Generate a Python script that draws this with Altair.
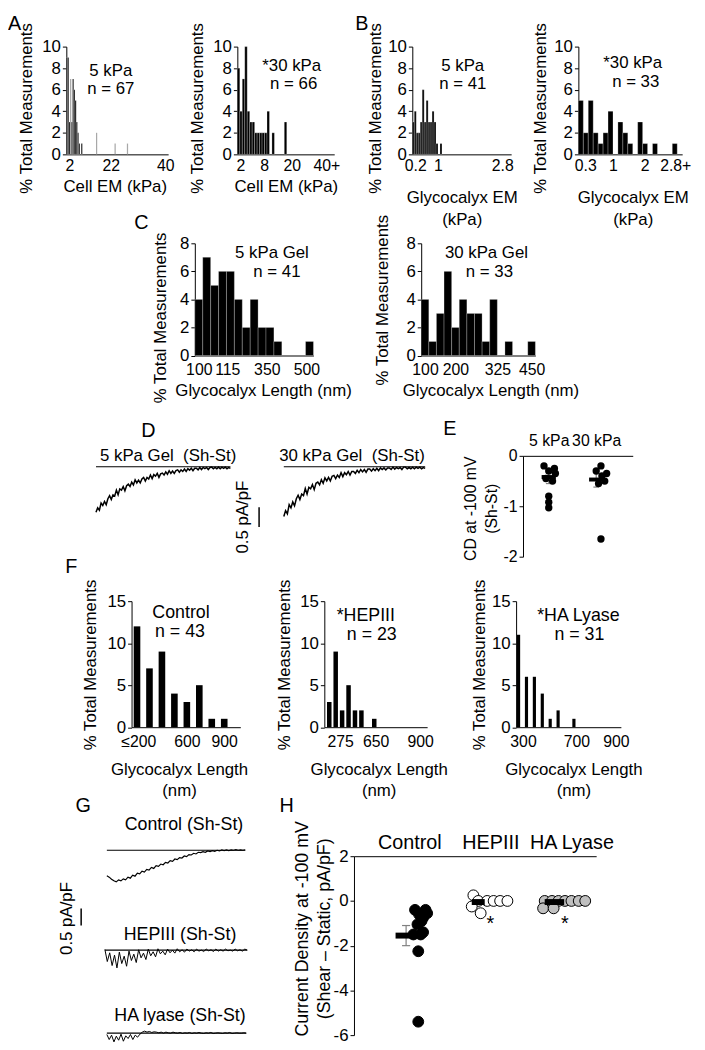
import altair as alt
import pandas as pd

FONT = "Liberation Sans"
W, H = 697, 1042
OX = OY = 8


def PX(x):
    return x - OX


def PY(y):
    return y - OY


# ------------------------------------------------------------------ data
# A: cell EM histograms (counts per bin)
A5_counts = [9, 9, 3, 7, 3, 7, 6, 5, 3, 2, 1, 0, 1, 0, 0, 0, 0, 0, 0, 0, 0, 0, 0, 0, 2,
             0, 0, 0, 0, 0, 0, 0, 0, 0, 0, 0, 0, 0, 0, 1, 0, 0, 0, 0, 0, 0, 0, 0, 0, 1]
A5_grey = [3, 24, 39, 49]
A5_tick_pos = [2.4, 36.0, 80.0]
A5_tick_lab = ["2", "22", "40"]

A30_counts = [8, 4, 7, 10, 4, 3, 3, 2, 2, 2, 2, 2, 4, 0, 2, 0, 0, 0, 0, 3]
A30_tick_pos = [1.2, 10.8, 22.0, 36.0]
A30_tick_lab = ["2", "8", "20", "40+"]

# B: glycocalyx EM histograms
B5_counts = [3, 4, 2, 2, 3, 6, 3, 5, 3, 3, 4, 3, 1, 0, 1]
B5_tick_pos = [1.5, 13.0, 45.5]
B5_tick_lab = ["0.2", "1", "2.8"]

B30_counts = [5, 2, 5, 2, 1, 2, 4, 0, 3, 2, 1, 0, 3, 1, 0, 1, 0, 0, 0, 1]
B30_tick_pos = [1.4, 7.0, 13.4, 19.6]
B30_tick_lab = ["0.3", "1", "2", "2.8+"]

# C: glycocalyx length histograms
C5_counts = [4, 7, 5, 6, 6, 4, 2, 4, 2, 2, 1, 0, 0, 0, 1]
C5_tick_pos = [0.5, 4.1, 9.1, 14.1]
C5_tick_lab = ["100", "115", "350", "500"]

C30_counts = [4, 1, 3, 6, 2, 4, 3, 3, 1, 4, 0, 1, 0, 0, 1]
C30_tick_pos = [0.5, 4.5, 10.0, 14.5]
C30_tick_lab = ["100", "200", "325", "450"]

# F: glycocalyx length after enzyme treatment
FC_counts = [12, 7, 9, 4, 3, 5, 1, 1]
FC_tick_pos = [0.6, 4.5, 7.5]
FC_tick_lab = ["≤200", "600", "900"]

FH_counts = [3, 9, 2, 5, 2, 2, 0, 1]
FH_tick_pos = [2.19, 7.73, 14.65]
FH_tick_lab = ["275", "650", "900"]

FL_counts = [11, 6, 6, 4, 1, 2, 0, 1]
FL_tick_pos = [1.06, 7.81, 12.81]
FL_tick_lab = ["300", "700", "900"]

# D: current traces (pA/pF, Sh-St)
D5_trace = [-1.15, -1.04, -1.10, -0.92, -0.98, -0.88, -0.96, -0.81, -0.73, -0.83,
            -0.71, -0.74, -0.59, -0.71, -0.56, -0.59, -0.50, -0.61, -0.48, -0.44,
            -0.50, -0.39, -0.46, -0.33, -0.41, -0.34, -0.41, -0.31, -0.27, -0.36,
            -0.27, -0.31, -0.21, -0.30, -0.20, -0.24, -0.17, -0.27, -0.18, -0.16,
            -0.21, -0.13, -0.19, -0.10, -0.17, -0.11, -0.17, -0.10, -0.08, -0.14,
            -0.08, -0.12, -0.06, -0.12, -0.05, -0.09, -0.04, -0.10, -0.04, -0.04,
            -0.08, -0.02, -0.07, -0.02, -0.05, -0.02, -0.07, -0.02, -0.01, -0.05,
            -0.02, -0.05, -0.01, -0.05, -0.01, -0.04, -0.01, -0.05, -0.02, -0.04]
D30_trace = [-1.26, -1.11, -1.19, -0.96, -1.04, -0.89, -0.99, -0.81, -0.72, -0.83,
             -0.69, -0.73, -0.55, -0.69, -0.52, -0.56, -0.45, -0.58, -0.42, -0.39,
             -0.46, -0.33, -0.42, -0.28, -0.36, -0.27, -0.36, -0.24, -0.22, -0.30,
             -0.21, -0.27, -0.15, -0.25, -0.15, -0.20, -0.12, -0.21, -0.12, -0.12,
             -0.17, -0.09, -0.15, -0.07, -0.13, -0.07, -0.14, -0.06, -0.06, -0.11,
             -0.05, -0.10, -0.04, -0.10, -0.03, -0.07, -0.03, -0.08, -0.03, -0.03,
             -0.07, -0.01, -0.06, -0.02, -0.05, -0.02, -0.07, -0.01, -0.01, -0.05,
             -0.02, -0.05, -0.01, -0.05, -0.01, -0.04, -0.01, -0.05, -0.02, -0.04]

# E: current density at -100 mV
E_groups = ["5 kPa", "30 kPa"]
E5_v = [-0.2, -0.25, -0.3, -0.35, -0.45, -0.5, -0.8, -0.92, -1.03]
E5_off = [-0.1, 0.12, 0.0, 0.14, -0.06, 0.08, 0.0, 0.0, 0.0]
E30_v = [-0.2, -0.3, -0.35, -0.4, -0.5, -0.55, -1.65]
E30_off = [0.1, 0.0, 0.22, 0.12, 0.18, 0.05, 0.1]
E_mean = [-0.42, -0.47]
E_sem = [0.13, 0.15]

# G: current traces
G_ctrl = [-0.76, -0.80, -0.86, -0.91, -0.94, -0.88, -0.91, -0.85, -0.88, -0.80,
          -0.83, -0.74, -0.77, -0.68, -0.70, -0.62, -0.65, -0.57, -0.59, -0.51,
          -0.54, -0.46, -0.48, -0.41, -0.43, -0.36, -0.38, -0.31, -0.33, -0.26,
          -0.28, -0.22, -0.23, -0.17, -0.19, -0.13, -0.14, -0.09, -0.11, -0.06,
          -0.07, -0.04, -0.06, -0.02, -0.04, -0.01, -0.03, 0.00, -0.02, 0.01,
          -0.01, 0.01, -0.01, 0.01, 0.00, 0.02, 0.00, 0.01, 0.00, 0.01]
G_hep = [0.02, -0.34, -0.08, -0.46, -0.15, -0.53, -0.06, -0.40, -0.18, -0.48,
         -0.03, -0.31, -0.12, -0.37, 0.01, -0.23, -0.09, -0.28, 0.03, -0.17,
         -0.05, -0.20, 0.04, -0.11, -0.03, -0.14, 0.03, -0.08, 0.00, -0.09,
         0.04, -0.05, 0.01, -0.06, 0.03, -0.03, 0.01, -0.05, 0.03, -0.03,
         0.00, -0.04, 0.03, -0.02, 0.01, -0.04, 0.03, -0.03, 0.01, -0.03,
         0.03, -0.02, 0.00, -0.03, 0.03, -0.02, 0.01, -0.03, 0.03, 0.00]
G_ha = [-0.04, -0.19, -0.06, -0.26, -0.09, -0.21, -0.03, -0.24, -0.08, -0.16,
        -0.04, -0.19, -0.06, -0.12, -0.03, 0.03, 0.06, 0.03, 0.05, 0.02,
        0.04, 0.03, 0.01, 0.03, 0.00, 0.03, 0.01, 0.00, 0.03, 0.01,
        0.00, 0.02, -0.01, 0.01, 0.00, 0.02, -0.01, 0.01, 0.00, 0.02,
        0.00, -0.01, 0.01, 0.00, 0.02, -0.01, 0.00, 0.01, 0.00, -0.01,
        0.01, 0.00, 0.02, -0.01, 0.00, 0.01, 0.00, 0.00, 0.01, 0.00]

# H: current density at -100 mV after enzyme treatment
H_groups = ["Control", "HEPIII", "HA Lyase"]
H_ctrl_v = [-0.4, -0.4, -0.55, -0.6, -0.75, -0.9, -1.05, -1.4, -1.5, -1.5, -2.25, -5.4]
H_ctrl_off = [0.07, 0.2, 0.22, 0.12, 0.17, 0.15, 0.1, 0.17, 0.05, 0.14, 0.11, 0.11]
H_hep_v = [0.25, 0, 0, 0, 0, 0, -0.25, -0.55]
H_hep_off = [-0.21, -0.15, -0.04, 0.04, 0.12, 0.21, -0.23, -0.12]
H_ha_v = [0, 0, 0, 0, 0, 0, 0, -0.33, -0.33]
H_ha_off = [-0.33, -0.24, -0.16, -0.08, 0.0, 0.09, 0.17, -0.35, -0.22]
H_mean = [-1.55, -0.05, -0.05]
H_sem = [0.45, 0.08, 0.06]
H_mean_off = [-0.04, -0.15, -0.21]
H_mean_half = [0.13, 0.08, 0.12]

# ------------------------------------------------------------------ helpers
AX = dict(grid=False, domainColor="black", tickColor="black", labelColor="black",
          titleColor="black", labelFont=FONT, titleFont=FONT, titleFontWeight="normal",
          labelOverlap=False, minExtent=0)
PLAIN = "'' + datum.value"


def lab_expr(pos, lab):
    return ("[" + ",".join("'%s'" % s for s in lab) + "][indexof(["
            + ",".join(repr(p) for p in pos) + "], datum.value)]")


def yaxis(ax_x, values, title, tcx, tcy, lsize=17, tsize=17, lh=None):
    d = dict(AX)
    d.update(orient="left", offset=-PX(ax_x), values=values, title=title, tickSize=4,
             labelPadding=2, labelFontSize=lsize, titleFontSize=tsize, labelExpr=PLAIN,
             titleX=tcx - ax_x, titleY=PY(tcy), titleBaseline="middle",
             titleAngle=270, titleAlign="center")
    if lh:
        d["titleLineHeight"] = lh
    return alt.Axis(**d)


def xaxis_bottom(ax_y, pos, lab, title, tcx, tcy, lsize=16, tsize=17, lh=None, lpad=3):
    d = dict(AX)
    d.update(orient="bottom", offset=PY(ax_y) - H, values=pos, labelExpr=lab_expr(pos, lab),
             ticks=False, labelPadding=lpad, labelFlush=False, labelFontSize=lsize,
             title=title, titleFontSize=tsize, titleX=PX(tcx), titleY=tcy - ax_y,
             titleBaseline="middle", titleAlign="center", titleAngle=0)
    if lh:
        d["titleLineHeight"] = lh
    return alt.Axis(**d)


def xaxis_top(ax_y, pos, lab, lsize, lpad):
    d = dict(AX)
    d.update(orient="top", offset=-PY(ax_y), values=pos, labelExpr=lab_expr(pos, lab),
             ticks=False, labelPadding=lpad, labelFlush=False, labelFontSize=lsize,
             title=None)
    return alt.Axis(**d)


def txt(s, x, y, size=17, align="center", angle=0):
    kw = dict(font=FONT, fontSize=size, color="black", align=align, baseline="middle")
    if angle:
        kw["angle"] = angle
    return alt.Chart(pd.DataFrame({"t": [s]})).mark_text(**kw).encode(
        text="t:N", x=alt.value(PX(x)), y=alt.value(PY(y)))


def hist(counts, xdom, xr, yr, ymax, ystep, tpos, tlab, xtitle, xtc, ytc,
         bar_w=1.0, grey=(), sep=True, xlh=None, lpad=3):
    blk, gry = [], []
    for i, c in enumerate(counts):
        if c > 0:
            row = {"x0": i + (1 - bar_w) / 2, "x1": i + (1 + bar_w) / 2, "c": c}
            (gry if i in grey else blk).append(row)
    xs = alt.Scale(domain=list(xdom), range=[PX(xr[0]), PX(xr[1])], nice=False, zero=False)
    ys = alt.Scale(domain=[0, ymax], range=[PY(yr[1]), PY(yr[0])], nice=False)
    xa = xaxis_bottom(yr[1], tpos, tlab, xtitle, xtc[0], xtc[1], lh=xlh, lpad=lpad)
    ya = yaxis(xr[0], list(range(0, ymax + 1, ystep)), "% Total Measurements", ytc[0], ytc[1])
    mk = dict(color="black")
    if sep:
        mk.update(stroke="white", strokeWidth=0.25)
    parts = [alt.Chart(pd.DataFrame(blk)).mark_bar(**mk).encode(
        x=alt.X("x0:Q", scale=xs, axis=xa), x2="x1:Q",
        y=alt.Y("c:Q", scale=ys, axis=ya), y2=alt.Y2(datum=0))]
    if gry:
        parts.append(alt.Chart(pd.DataFrame(gry)).mark_bar(color="#a8a8a8").encode(
            x=alt.X("x0:Q", scale=xs, axis=xa), x2="x1:Q",
            y=alt.Y("c:Q", scale=ys, axis=ya), y2=alt.Y2(datum=0)))
    return alt.layer(*parts)


def trace(vals, xr, y0, ppu, width=1.3, bar=None):
    n = len(vals)
    df = pd.DataFrame({"t": [i / (n - 1) for i in range(n)], "v": vals})
    dom = [-2.5, 0.5]
    xs = alt.Scale(domain=[0, 1], range=[PX(xr[0]), PX(xr[1])], nice=False, zero=False)
    ys = alt.Scale(domain=dom, range=[PY(y0 - dom[0] * ppu), PY(y0 - dom[1] * ppu)],
                   nice=False, zero=False)
    parts = [
        alt.Chart(pd.DataFrame({"a": [0.0], "b": [1.0], "z": [0.0]})).mark_rule(
            color="black", strokeWidth=1.2).encode(
            x=alt.X("a:Q", scale=xs, axis=None), x2="b:Q",
            y=alt.Y("z:Q", scale=ys, axis=None)),
        alt.Chart(df).mark_line(color="black", strokeWidth=width).encode(
            x=alt.X("t:Q", scale=xs, axis=None), y=alt.Y("v:Q", scale=ys, axis=None)),
    ]
    if bar:
        bx, v0, v1 = bar
        parts.append(alt.Chart(pd.DataFrame({"k": [0]})).mark_rule(
            color="black", strokeWidth=1.5).encode(
            x=alt.value(PX(bx)), y=alt.Y(datum=v0, scale=ys, axis=None),
            y2=alt.Y2(datum=v1)))
    return alt.layer(*parts)


layers = []

# ------------------------------------------------------------------ A / B
AY = (41, 150)
layers.append(hist(A5_counts, (0, 82.4), (67, 170), AY, 10, 2, A5_tick_pos, A5_tick_lab,
                   "Cell EM (kPa)", (116, 183), (27, 103), grey=A5_grey))
layers.append(hist(A30_counts, (0, 39.2), (240, 338), AY, 10, 2, A30_tick_pos, A30_tick_lab,
                   "Cell EM (kPa)", (289, 183), (200, 103)))
layers.append(hist(B5_counts, (0, 50), (417, 517), AY, 10, 2, B5_tick_pos, B5_tick_lab,
                   ["Glycocalyx EM", "(kPa)"], (467, 194), (380, 103), xlh=22))
layers.append(hist(B30_counts, (0, 21), (585, 690), AY, 10, 2, B30_tick_pos, B30_tick_lab,
                   ["Glycocalyx EM", "(kPa)"], (640, 194), (547, 103), xlh=22))
layers += [txt("5 kPa", 112, 66), txt("n = 67", 112, 84),
           txt("*30 kPa", 295, 61), txt("n = 66", 297, 79),
           txt("5 kPa", 468, 61), txt("n = 41", 468, 79),
           txt("*30 kPa", 640, 58), txt("n = 33", 643, 77)]

# ------------------------------------------------------------------ C
CY = (240, 353.5)
layers.append(hist(C5_counts, (0, 15), (197, 317), CY, 8, 2, C5_tick_pos, C5_tick_lab,
                   "Glycocalyx Length (nm)", (266, 389), (162, 315), lpad=6))
layers.append(hist(C30_counts, (0, 15), (426, 541.5), CY, 8, 2, C30_tick_pos, C30_tick_lab,
                   "Glycocalyx Length (nm)", (496, 389), (387, 297), lpad=6))
layers += [txt("5 kPa Gel", 275, 250), txt("n = 41", 280, 269),
           txt("30 kPa Gel", 492, 250), txt("n = 33", 495, 269)]

# ------------------------------------------------------------------ D
layers.append(trace(D5_trace, (97, 233), 466, 40, width=1.5, bar=(262, -1.025, -1.525)))
layers.append(trace(D30_trace, (287, 430), 466, 40, width=1.5))
layers += [txt("5 kPa Gel\u00a0\u00a0(Sh-St)", 170, 455),
           txt("30 kPa Gel\u00a0\u00a0(Sh-St)", 356, 455),
           txt("0.5 pA/pF", 246, 517, angle=270)]

# ------------------------------------------------------------------ E
E_xs = alt.Scale(domain=[0.458, 2.77], range=[PX(529), PX(640)], nice=False, zero=False)
E_ys = alt.Scale(domain=[-2, 0], range=[PY(557), PY(455)], nice=False, zero=False)
e_pts = pd.DataFrame({"p": [1 + o for o in E5_off] + [2 + o for o in E30_off],
                      "v": E5_v + E30_v})
e_sum = pd.DataFrame({"p": [1, 2], "m": E_mean,
                      "lo": [m - s for m, s in zip(E_mean, E_sem)],
                      "hi": [m + s for m, s in zip(E_mean, E_sem)]})
e_sum["c0"] = e_sum["p"] - 0.06
e_sum["c1"] = e_sum["p"] + 0.06
e_sum["b0"] = e_sum["p"] - 0.15
e_sum["b1"] = e_sum["p"] + 0.15
E_yaxis = yaxis(529, [-2, -1, 0], ["CD at -100 mV", "(Sh-St)"], 476, 508,
                lsize=16, tsize=16, lh=21)
E_xaxis = xaxis_top(455, [1, 2], E_groups, 16, 7)


def ex(f):
    return alt.X(f, scale=E_xs, axis=E_xaxis)


def ey(f):
    return alt.Y(f, scale=E_ys, axis=E_yaxis)


e_layer = alt.layer(
    alt.Chart(e_sum).mark_rule(color="#808080", strokeWidth=1.2).encode(
        x=ex("p:Q"), y=ey("lo:Q"), y2="hi:Q"),
    alt.Chart(e_sum).mark_rule(color="#808080", strokeWidth=1.2).encode(
        x=ex("c0:Q"), x2="c1:Q", y=ey("lo:Q")),
    alt.Chart(e_sum).mark_rule(color="#808080", strokeWidth=1.2).encode(
        x=ex("c0:Q"), x2="c1:Q", y=ey("hi:Q")),
    alt.Chart(e_pts).mark_circle(color="black", size=55, opacity=1).encode(
        x=ex("p:Q"), y=ey("v:Q")),
    alt.Chart(e_sum).mark_rule(color="black", strokeWidth=4).encode(
        x=ex("b0:Q"), x2="b1:Q", y=ey("m:Q")),
)
layers.append(e_layer)

# ------------------------------------------------------------------ F
FY = (602, 729.5)
layers.append(hist(FC_counts, (0.063, 8.79), (133, 243), FY, 15, 5, FC_tick_pos, FC_tick_lab,
                   ["Glycocalyx Length", "(nm)"], (181, 772), (92, 666),
                   bar_w=0.53, sep=False, xlh=22, lpad=7))
layers.append(hist(FH_counts, (-0.27, 15.73), (328, 432), FY, 15, 5, FH_tick_pos, FH_tick_lab,
                   ["Glycocalyx Length", "(nm)"], (383, 772), (288, 666),
                   bar_w=0.7, sep=False, xlh=22, lpad=7))
layers.append(hist(FL_counts, (0.1875, 13.44), (522, 628), FY, 15, 5, FL_tick_pos, FL_tick_lab,
                   ["Glycocalyx Length", "(nm)"], (580, 772), (485, 666),
                   bar_w=0.4, sep=False, xlh=22, lpad=7))
layers += [txt("Control", 183, 614, size=18), txt("n = 43", 182, 633, size=18),
           txt("*HEPIII", 370, 617, size=18), txt("n = 23", 376, 636, size=18),
           txt("*HA Lyase", 585, 617, size=18), txt("n = 31", 586, 636, size=18)]

# ------------------------------------------------------------------ G
layers.append(trace(G_ctrl, (108, 248), 854, 34, width=1.2, bar=(82, -1.735, -2.235)))
layers.append(trace(G_hep, (106, 250), 955, 34, width=1.0))
layers.append(trace(G_ha, (108, 249), 1039, 34, width=1.0))
layers += [txt("Control (Sh-St)", 186, 829, size=18), txt("HEPIII (Sh-St)", 182, 940, size=18),
           txt("HA lyase (Sh-St)", 182, 1022, size=18), txt("0.5 pA/pF", 68, 923, angle=270)]

# ------------------------------------------------------------------ H
H_xs = alt.Scale(domain=[0.317, 3.305], range=[PX(358), PX(603)], nice=False, zero=False)
H_ys = alt.Scale(domain=[-6, 2], range=[PY(1041), PY(860)], nice=False, zero=False)
h_ctrl = pd.DataFrame({"p": [1 + o for o in H_ctrl_off], "v": H_ctrl_v})
h_hep = pd.DataFrame({"p": [2 + o for o in H_hep_off], "v": H_hep_v})
h_ha = pd.DataFrame({"p": [3 + o for o in H_ha_off], "v": H_ha_v})
h_sum = pd.DataFrame({"g": [1, 2, 3], "m": H_mean, "s": H_sem,
                      "o": H_mean_off, "hw": H_mean_half})
h_sum["c"] = h_sum["g"] + h_sum["o"]
h_sum["b0"] = h_sum["c"] - h_sum["hw"]
h_sum["b1"] = h_sum["c"] + h_sum["hw"]
h_sum["lo"] = h_sum["m"] - h_sum["s"]
h_sum["hi"] = h_sum["m"] + h_sum["s"]
h_sum["c0"] = h_sum["c"] - 0.05
h_sum["c1"] = h_sum["c"] + 0.05
h_err = h_sum.iloc[:1]
h_star = pd.DataFrame({"p": [2.0, 2.92], "v": [-1.05, -1.05], "t": ["*", "*"]})
H_yaxis = yaxis(358, [-6, -4, -2, 0, 2], ["Current Density at -100 mV",
                                          "(Shear \u2013 Static, pA/pF)"], 306, 933,
                lsize=17, tsize=18, lh=22)
H_xaxis = xaxis_top(860, [1, 2, 3], H_groups, 20, 4)


def hx(f):
    return alt.X(f, scale=H_xs, axis=H_xaxis)


def hy(f):
    return alt.Y(f, scale=H_ys, axis=H_yaxis)


def pts(df, fill):
    return alt.Chart(df).mark_point(filled=True, fill=fill, stroke="black", size=120,
                                    opacity=1, strokeWidth=1).encode(x=hx("p:Q"), y=hy("v:Q"))


h_layer = alt.layer(
    alt.Chart(h_err).mark_rule(color="#808080", strokeWidth=1.2).encode(
        x=hx("c:Q"), y=hy("lo:Q"), y2="hi:Q"),
    alt.Chart(h_err).mark_rule(color="#808080", strokeWidth=1.2).encode(
        x=hx("c0:Q"), x2="c1:Q", y=hy("lo:Q")),
    alt.Chart(h_err).mark_rule(color="#808080", strokeWidth=1.2).encode(
        x=hx("c0:Q"), x2="c1:Q", y=hy("hi:Q")),
    pts(h_ctrl, "black"), pts(h_hep, "white"), pts(h_ha, "#c0c0c0"),
    alt.Chart(h_sum).mark_rule(color="black", strokeWidth=6).encode(
        x=hx("b0:Q"), x2="b1:Q", y=hy("m:Q")),
    alt.Chart(h_star).mark_text(font=FONT, fontSize=20, color="black").encode(
        x=hx("p:Q"), y=hy("v:Q"), text="t:N"),
)
layers.append(h_layer)

# ------------------------------------------------------------------ panel letters
for s, x, y in [("A", 8, 18), ("B", 366, 18), ("C", 143, 220), ("D", 150, 430),
                ("E", 455, 428), ("F", 72, 568), ("G", 84, 809), ("H", 290, 809)]:
    layers.append(txt(s, x, y, size=20, align="left" if s == "A" else "center"))

chart = alt.layer(*layers).resolve_scale(x="independent", y="independent").properties(
    width=W, height=H, autosize=alt.AutoSizeParams(type="none"), padding=0
).configure_view(stroke=None)

chart.save("out.html", embed_options={"renderer": "svg", "actions": False})
